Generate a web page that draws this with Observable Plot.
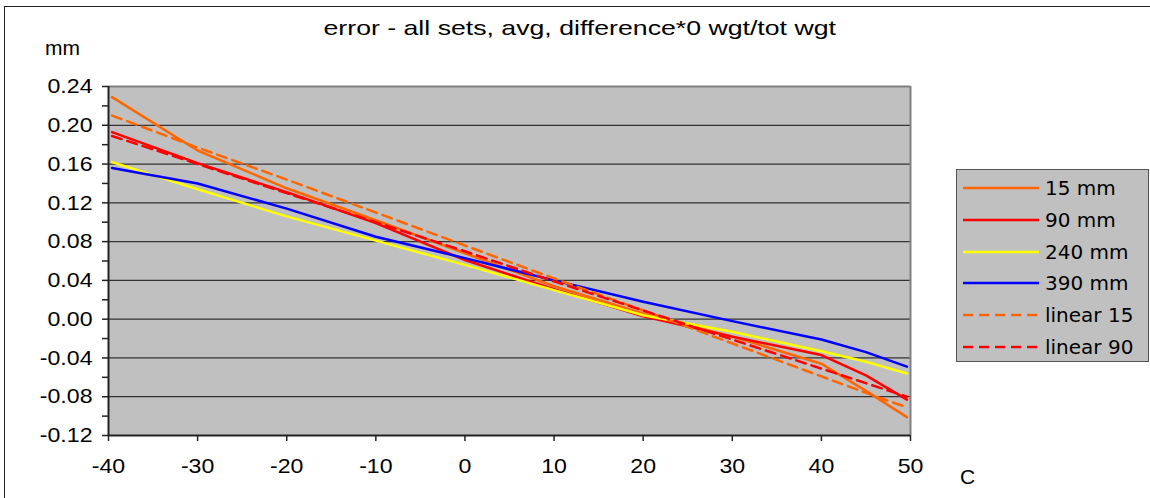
<!DOCTYPE html>
<html><head><meta charset="utf-8">
<script src="https://cdn.jsdelivr.net/npm/d3@7"></script>
<script src="https://cdn.jsdelivr.net/npm/@observablehq/plot@0.6"></script>
<style>
body{margin:0;background:#fff;}
#wrap{position:relative;width:1150px;height:498px;overflow:hidden;font-family:"Liberation Sans",Arial,sans-serif;color:#000;}
#wrap svg{position:absolute;left:0;top:0;}
.border{position:absolute;left:4px;top:6px;width:1170px;height:520px;border:1.5px solid #222;box-sizing:border-box;}
.title{position:absolute;left:0;width:1160px;top:16px;text-align:center;font-size:21px;white-space:nowrap;}
.title span{display:inline-block;transform:scaleX(1.27);transform-origin:50% 50%;}
.ylab{position:absolute;left:45px;top:36px;font-size:21px;}
.xlab{position:absolute;left:960px;top:465px;font-size:21px;}
.legend{position:absolute;left:956px;top:169px;width:193px;height:193px;background:#c0c0c0;border:1.5px solid #555;box-sizing:border-box;font-family:"DejaVu Sans",Verdana,sans-serif;font-size:20px;color:#000;}
.legend .row{position:absolute;left:0;height:32px;display:flex;align-items:center;}
.legend svg{position:static !important;margin-left:6px;margin-right:6px;}
</style></head><body><div id="wrap"></div>
<script>
// ---- data ----
const temps = [-39.6, -30, -20, -10, 0, 10, 20, 30, 40, 45, 49.6];
const mm15    = [0.229, 0.174, 0.135, 0.102, 0.068, 0.034, 0.006, -0.018, -0.046, -0.074, -0.101];
const mm90    = [0.193, 0.161, 0.131, 0.099, 0.061, 0.031, 0.003, -0.018, -0.037, -0.058, -0.083];
const mm240   = [0.162, 0.134, 0.106, 0.081, 0.056, 0.030, 0.004, -0.013, -0.033, -0.044, -0.056];
const mm390   = [0.156, 0.140, 0.114, 0.085, 0.063, 0.040, 0.018, -0.002, -0.021, -0.034, -0.049];
const linear15 = [0.210, 0.177, 0.144, 0.110, 0.076, 0.042, 0.009, -0.025, -0.059, -0.076, -0.091];
const linear90 = [0.189, 0.160, 0.130, 0.100, 0.070, 0.039, 0.009, -0.021, -0.051, -0.066, -0.080];

const seriesNames = ["15 mm", "90 mm", "240 mm", "390 mm", "linear 15", "linear 90"];
const seriesValues = [mm15, mm90, mm240, mm390, linear15, linear90];
const seriesColors = ["#ff6600", "#ff0000", "#ffff00", "#0000ff", "#ff6600", "#ff0000"];
const seriesDashed = [false, false, false, false, true, true];

const xTicks = [-40, -30, -20, -10, 0, 10, 20, 30, 40, 50];
const yTicks = [-0.12, -0.10, -0.08, -0.06, -0.04, -0.02, 0.00, 0.02, 0.04, 0.06, 0.08, 0.10, 0.12, 0.14, 0.16, 0.18, 0.20, 0.22, 0.24];
const yMajor = [-0.12, -0.08, -0.04, 0.00, 0.04, 0.08, 0.12, 0.16, 0.20, 0.24];

const titleText = "error - all sets, avg, difference*0 wgt/tot wgt";
const yUnit = "mm";
const xUnit = "C";

// ---- build ----
const rows = seriesNames.flatMap((name, i) =>
  temps.map((t, j) => ({series: name, temp: t, value: seriesValues[i][j]})));

const isMajor = d => Math.abs(Math.round(d * 100)) % 4 === 0;
const fmt = d => (Math.abs(d) < 1e-9 ? 0 : d).toFixed(2);

const lineMarks = seriesNames.map((name, i) =>
  Plot.line(rows.filter(r => r.series === name), {
    x: "temp", y: "value", stroke: seriesColors[i], strokeWidth: 2.5,
    strokeDasharray: seriesDashed[i] ? "10,6" : null, strokeLinejoin: "round"
  }));

const chart = Plot.plot({
  width: 1150, height: 498,
  marginLeft: 108, marginRight: 240, marginTop: 86, marginBottom: 63,
  style: {fontFamily: "'Liberation Sans', Arial, sans-serif", fontSize: "21px", color: "#000", background: "transparent", overflow: "visible"},
  x: {domain: [-40, 50], label: null},
  y: {domain: [-0.12, 0.24], label: null},
  marks: [
    Plot.frame({fill: "#c0c0c0", stroke: null}),
    Plot.gridY(yMajor.filter(d => d > -0.12 && d < 0.24), {stroke: "#333", strokeOpacity: 1, strokeWidth: 1.3}),
    Plot.ruleY([0.24], {stroke: "#808080", strokeWidth: 2}),
    Plot.ruleX([50], {stroke: "#808080", strokeWidth: 2}),
    ...lineMarks,
    Plot.ruleX([-40], {stroke: "#222", strokeWidth: 2}),
    Plot.ruleY([-0.12], {stroke: "#222", strokeWidth: 2}),
    Plot.axisY(yTicks, {tickSize: 6, tickPadding: 10, tickFormat: d => isMajor(d) ? fmt(d) : "", label: null, stroke: "#222", strokeWidth: 1.5}),
    Plot.axisX(xTicks, {tickSize: 6, tickPadding: 17, tickFormat: d => String(d), label: null, stroke: "#222", strokeWidth: 1.5})
  ]
});

const wrap = document.getElementById("wrap");
wrap.appendChild(chart);

// widen tick labels slightly, as in the reference
chart.querySelectorAll("g[aria-label$='tick label'] text, g[aria-label*='tick label'] text").forEach(t => {
  const len = t.getComputedTextLength();
  if (len > 0) {
    t.setAttribute("textLength", (len * 1.1).toFixed(1));
    t.setAttribute("lengthAdjust", "spacingAndGlyphs");
  }
});

const border = document.createElement("div"); border.className = "border"; wrap.appendChild(border);
const title = document.createElement("div"); title.className = "title";
const tspan = document.createElement("span"); tspan.textContent = titleText; title.appendChild(tspan);
wrap.appendChild(title);
const yl = document.createElement("div"); yl.className = "ylab"; yl.textContent = yUnit; wrap.appendChild(yl);
const xl = document.createElement("div"); xl.className = "xlab"; xl.textContent = xUnit; wrap.appendChild(xl);

const legend = document.createElement("div"); legend.className = "legend";
seriesNames.forEach((name, i) => {
  const row = document.createElement("div"); row.className = "row";
  row.style.top = (2 + i * 31.8) + "px";
  const sw = d3.create("svg").attr("width", 76).attr("height", 6);
  sw.append("line").attr("x1", 0).attr("x2", 76).attr("y1", 3).attr("y2", 3)
    .attr("stroke", seriesColors[i]).attr("stroke-width", 2.5)
    .attr("stroke-dasharray", seriesDashed[i] ? "10,6" : null);
  row.appendChild(sw.node());
  const sp = document.createElement("span"); sp.textContent = name; row.appendChild(sp);
  legend.appendChild(row);
});
wrap.appendChild(legend);
</script></body></html>
